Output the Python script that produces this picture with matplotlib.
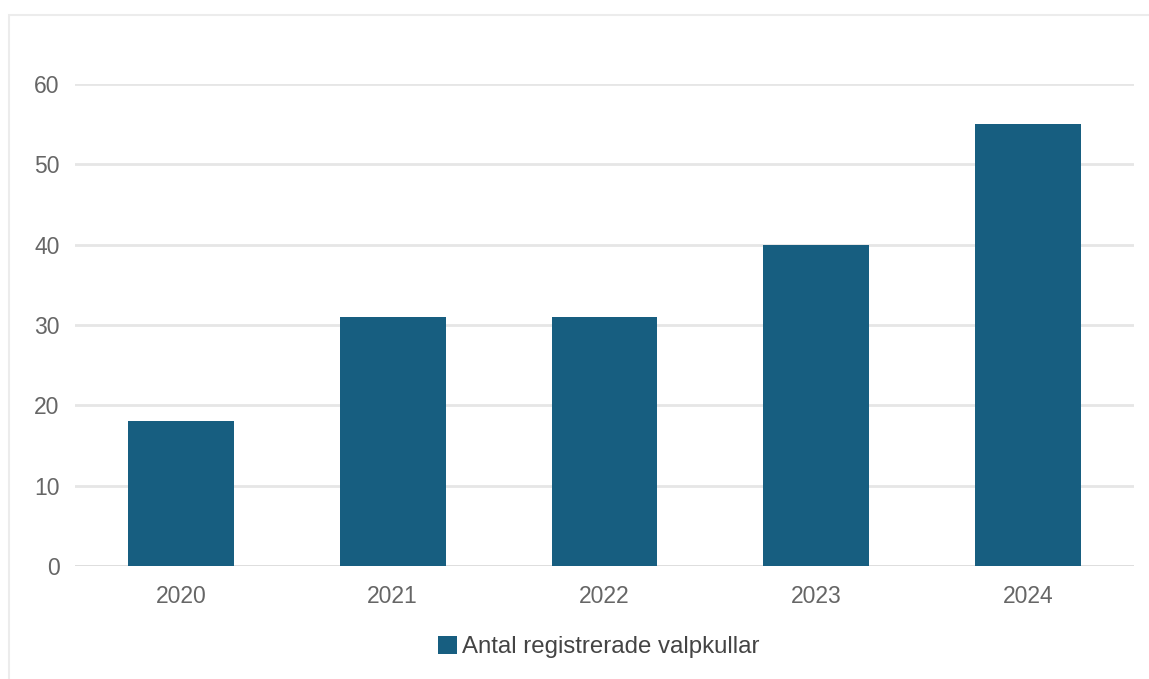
import matplotlib
matplotlib.use("Agg")
import matplotlib.pyplot as plt
from matplotlib.patches import Rectangle, Patch

# data
years = ["2020", "2021", "2022", "2023", "2024"]
litters = [18, 31, 31, 40, 55]
yticks = [0, 10, 20, 30, 40, 50, 60]
series_name = "Antal registrerade valpkullar"

bar_color = "#175e80"
grid_color = "#e6e6e6"
tick_color = "#666666"

plt.rcParams["font.family"] = ["Liberation Sans", "DejaVu Sans"]

W, H = 1149, 679
fig = plt.figure(figsize=(W / 100, H / 100), dpi=100)

# light frame around the chart (only top and left visible)
fig.patches.append(Rectangle((8.5 / W, -0.1), 1.2, 1 - 15 / H + 0.1,
                             transform=fig.transFigure, fill=False,
                             edgecolor="#ececec", linewidth=1.5))

ax = fig.add_axes([75 / W, (H - 566) / H, (1134 - 75) / W, (566 - 84) / H])
x = list(range(len(years)))
ax.bar(x, litters, width=0.5, color=bar_color, zorder=3)

ax.set_xlim(-0.5, len(years) - 0.5)
ax.set_ylim(0, 60)
ax.set_yticks(yticks)
ax.set_xticks(x)
ax.set_xticklabels(years)

ax.grid(axis="y", color=grid_color, linewidth=2, zorder=0)
ax.axhline(0, color="#dddddd", linewidth=2, zorder=2)
for s in ax.spines.values():
    s.set_visible(False)
ax.tick_params(axis="both", length=0, labelsize=16.5, labelcolor=tick_color)
ax.tick_params(axis="y", pad=11)
ax.tick_params(axis="x", pad=14)
ax.set_yticklabels([str(v) for v in yticks], fontsize=16.5)

handle = Patch(facecolor=bar_color, edgecolor="none")
fig.legend([handle], [series_name], loc="center", bbox_to_anchor=(599 / W, 1 - 647 / H),
           frameon=False, fontsize=17.3, handlelength=0.8, handleheight=0.8,
           handletextpad=0.2, labelcolor="#444444")

fig.savefig("out.png", dpi=100, facecolor="white")
